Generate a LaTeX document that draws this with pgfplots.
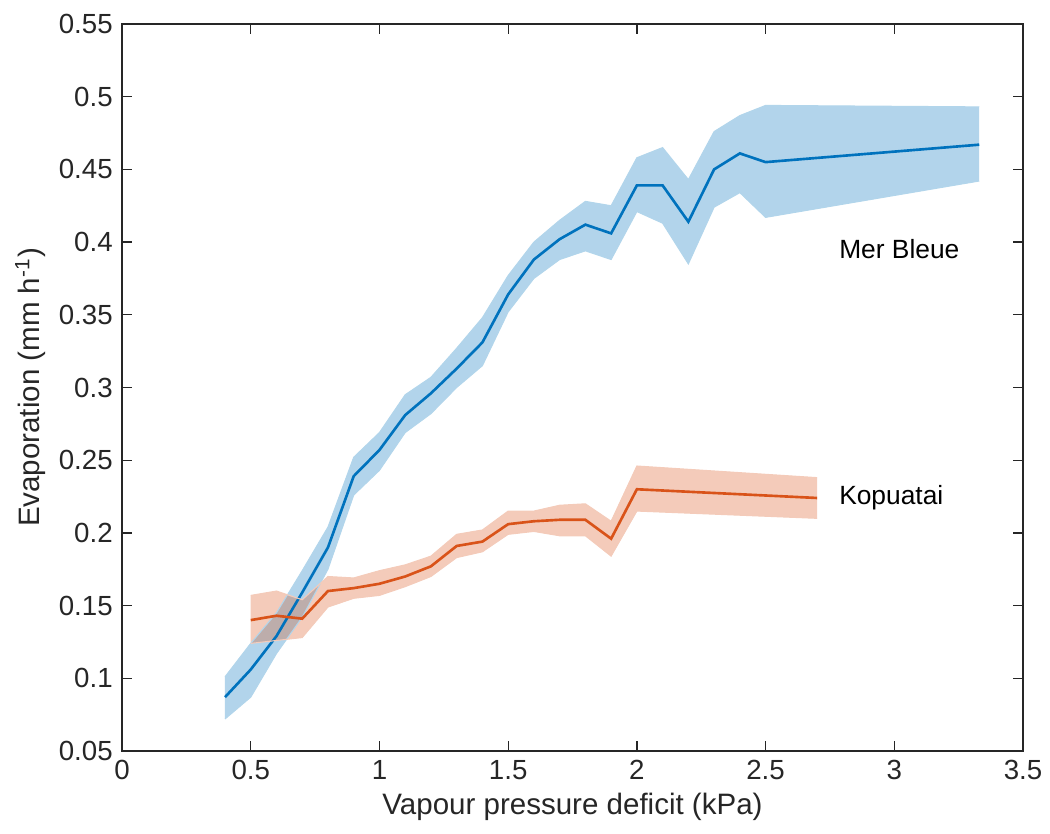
\documentclass[border=0pt]{standalone}
\usepackage{fontspec}
\setmainfont{Liberation Sans}
\usepackage{pgfplots}
\usepackage{pgfplotstable}
\pgfplotsset{compat=1.18}
\usepgfplotslibrary{fillbetween}

\definecolor{mbblue}{rgb}{0,0.447,0.741}
\definecolor{kporange}{rgb}{0.85,0.325,0.098}
\definecolor{axgray}{rgb}{0.15,0.15,0.15}

% Mer Bleue: x, mean, upper, lower
\pgfplotstableread{
x    m      hi     lo
0.4  0.087  0.101  0.072
0.5  0.106  0.124  0.087
0.6  0.129  0.145  0.117
0.7  0.159  0.174  0.142
0.8  0.190  0.204  0.175
0.9  0.239  0.252  0.226
1.0  0.257  0.269  0.243
1.1  0.281  0.295  0.269
1.2  0.296  0.307  0.282
1.3  0.313  0.327  0.300
1.4  0.331  0.348  0.315
1.5  0.364  0.377  0.352
1.6  0.388  0.400  0.375
1.7  0.402  0.415  0.388
1.8  0.412  0.428  0.394
1.9  0.406  0.425  0.388
2.0  0.439  0.458  0.421
2.1  0.439  0.465  0.413
2.2  0.414  0.443  0.385
2.3  0.450  0.476  0.424
2.4  0.461  0.487  0.434
2.5  0.455  0.494  0.417
3.33 0.467  0.493  0.442
}\merbleue

% Kopuatai: x, mean, upper, lower
\pgfplotstableread{
x    m      hi     lo
0.5  0.140  0.157  0.124
0.6  0.143  0.160  0.126
0.7  0.141  0.154  0.128
0.8  0.160  0.170  0.149
0.9  0.162  0.169  0.155
1.0  0.165  0.174  0.157
1.1  0.170  0.178  0.163
1.2  0.177  0.184  0.170
1.3  0.191  0.199  0.183
1.4  0.194  0.202  0.187
1.5  0.206  0.215  0.199
1.6  0.208  0.215  0.201
1.7  0.209  0.219  0.198
1.8  0.209  0.220  0.198
1.9  0.196  0.208  0.184
2.0  0.230  0.246  0.215
2.7  0.224  0.238  0.210
}\kopuatai

\begin{document}
\begin{tikzpicture}
\begin{axis}[
  scale only axis,
  width=12.013cm, height=9.693cm,
  xmin=0, xmax=3.5, ymin=0.05, ymax=0.55,
  xtick={0,0.5,...,3.5},
  ytick={0.05,0.1,...,0.56},
  axis line style={axgray, line width=0.5pt},
  tick style={axgray, line width=0.5pt},
  tick align=inside,
  major tick length=0.13cm,
  ticklabel style={font=\fontsize{10.5}{12}\selectfont, text=axgray},
  label style={font=\fontsize{11.2}{13.5}\selectfont, text=axgray},
  /pgf/number format/assume math mode=true,
  yticklabel style={/pgf/number format/fixed},
  xlabel={Vapour pressure deficit (kPa)},
  ylabel={Evaporation (mm h\textsuperscript{-1})},
  xlabel style={yshift=2pt},
  ylabel style={yshift=-2pt},
]
% Mer Bleue band and line
\addplot[name path=mbhi, mbblue!30, line width=0.4pt, forget plot] table[x=x, y=hi] {\merbleue};
\addplot[name path=mblo, mbblue!30, line width=0.4pt, forget plot] table[x=x, y=lo] {\merbleue};
\addplot[mbblue, fill opacity=0.3, forget plot] fill between[of=mbhi and mblo];
\addplot[mbblue, line width=1pt] table[x=x, y=m] {\merbleue};
% Kopuatai band and line
\addplot[name path=kphi, kporange!30, line width=0.4pt, forget plot] table[x=x, y=hi] {\kopuatai};
\addplot[name path=kplo, kporange!30, line width=0.4pt, forget plot] table[x=x, y=lo] {\kopuatai};
\addplot[kporange, fill opacity=0.3, forget plot] fill between[of=kphi and kplo];
\addplot[kporange, line width=1pt] table[x=x, y=m] {\kopuatai};

\node[anchor=west, font=\fontsize{10}{12}\selectfont] at (axis cs:2.75,0.395) {Mer Bleue};
\node[anchor=west, font=\fontsize{10}{12}\selectfont] at (axis cs:2.75,0.224) {Kopuatai};
\end{axis}
\pgfresetboundingbox
\path[use as bounding box] (-1.627,-1.107) rectangle (12.373,10.013);
\end{tikzpicture}
\end{document}
